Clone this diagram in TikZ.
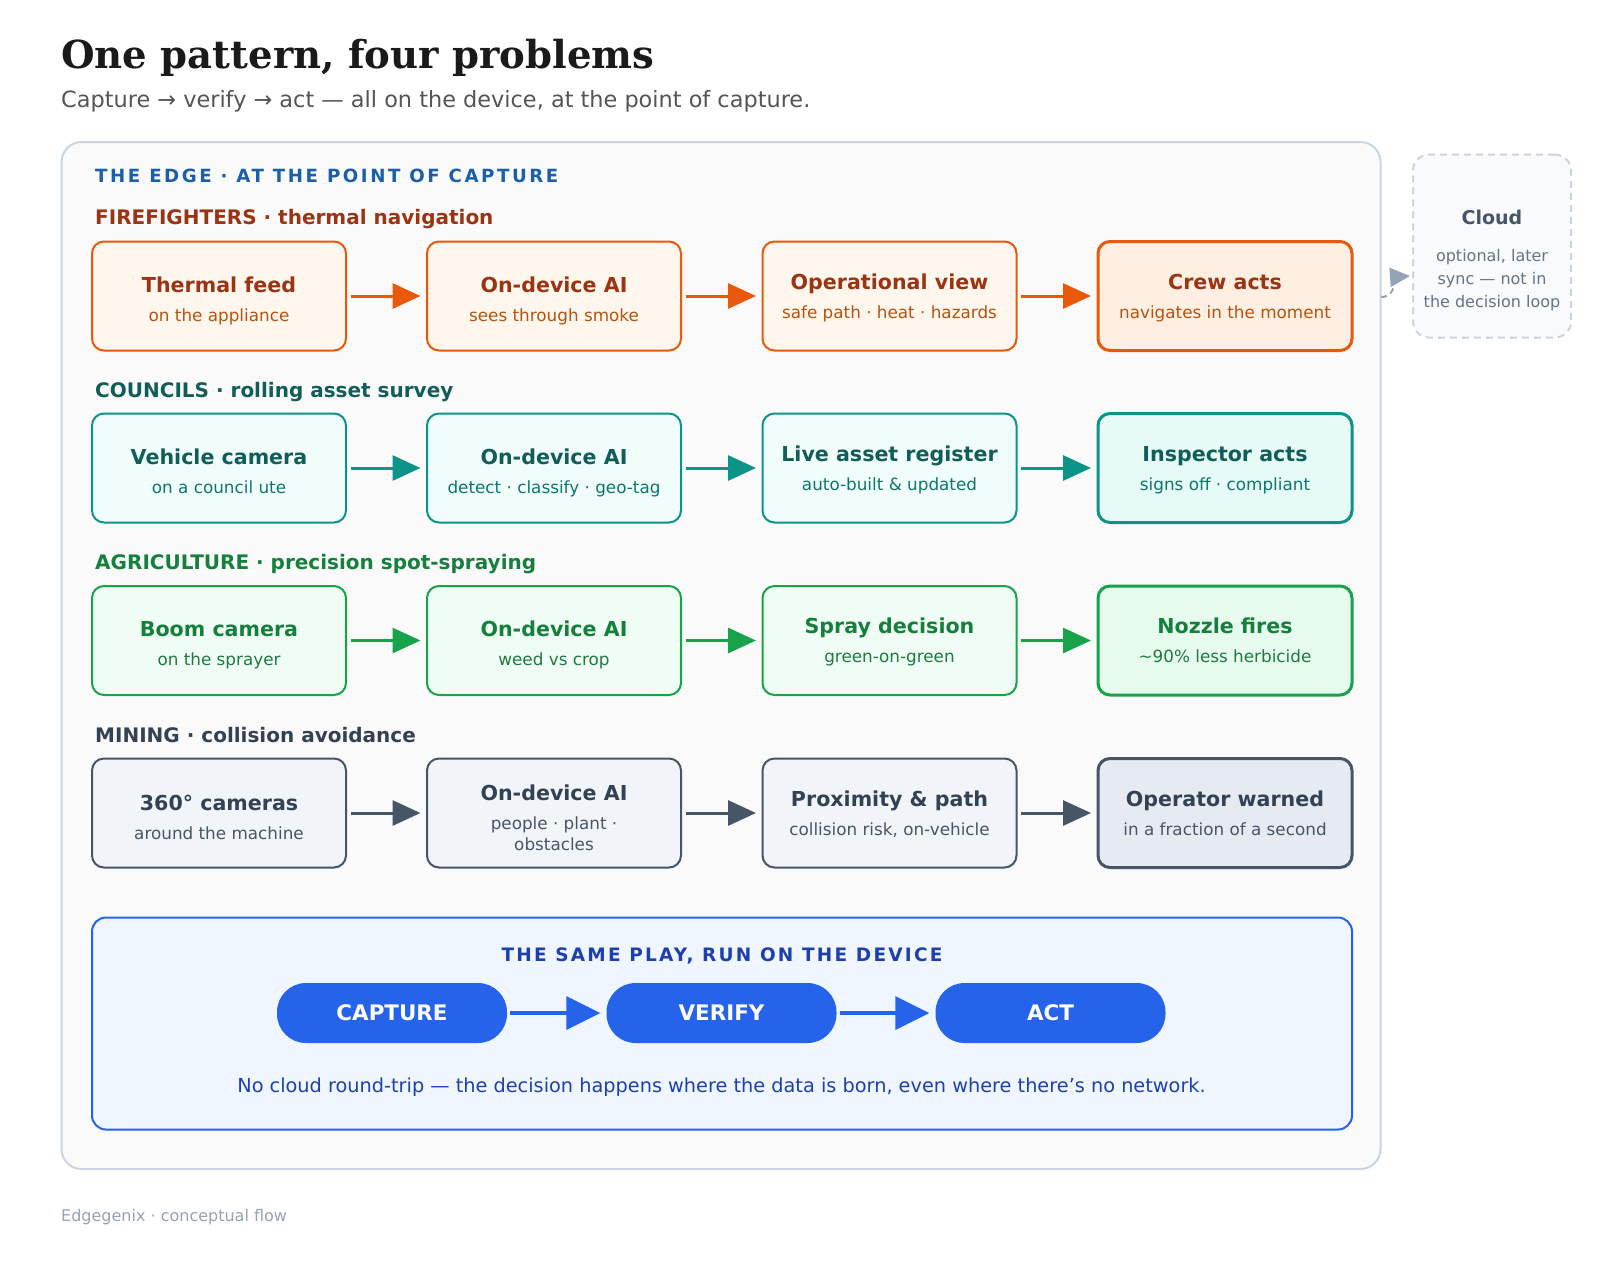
\documentclass[tikz,border=0pt]{standalone}
\usepackage{fontspec}
\setmainfont{DejaVu Sans}
\newfontfamily\serifb{DejaVu Serif}
\newfontface\spacedb{DejaVu Sans Bold}[LetterSpace=14]
\newfontface\spacedc{DejaVu Sans Bold}[LetterSpace=12]
\usetikzlibrary{arrows.meta,calc}
\newcommand\fs[1]{\fontsize{#1}{#1}\selectfont}
\definecolor{fireL}{HTML}{9A3412}\definecolor{fireB}{HTML}{EA580C}\definecolor{fireF}{HTML}{FFF7ED}\definecolor{fireFF}{HTML}{FFEFE3}\definecolor{fireS}{HTML}{B4530F}
\definecolor{counL}{HTML}{115E59}\definecolor{counB}{HTML}{0D9488}\definecolor{counF}{HTML}{F0FDFA}\definecolor{counFF}{HTML}{E6FAF6}\definecolor{counS}{HTML}{0F766E}
\definecolor{agrL}{HTML}{15803D}\definecolor{agrB}{HTML}{16A34A}\definecolor{agrF}{HTML}{F0FDF4}\definecolor{agrFF}{HTML}{E6FAEE}\definecolor{agrS}{HTML}{1D7A40}
\definecolor{minL}{HTML}{334155}\definecolor{minB}{HTML}{475569}\definecolor{minF}{HTML}{F1F5F9}\definecolor{minFF}{HTML}{E6EBF2}\definecolor{minS}{HTML}{475569}
\definecolor{edgeL}{HTML}{1A5FA8}\definecolor{panelB}{HTML}{CBD5E1}\definecolor{panelF}{HTML}{FAFAFA}
\definecolor{blueF}{HTML}{EFF6FF}\definecolor{blueB}{HTML}{2563EB}\definecolor{blueT}{HTML}{1E40AF}
\definecolor{cloudF}{HTML}{F8FAFC}\definecolor{cloudT}{HTML}{475569}\definecolor{cloudS}{HTML}{64748B}\definecolor{cloudA}{HTML}{94A3B8}
\definecolor{titleC}{HTML}{1A1A1A}\definecolor{subC}{HTML}{555555}\definecolor{footC}{HTML}{94A3B8}
\newcommand\tcol{fireL}\newcommand\scol{fireS}
\newcommand\mkbox[7]{%
  \node[#2] (#1) at (#3,#4) {};
  \node[ttl, text=\tcol] (#1-t) at ($(#1.center)+(0,#7)$) {#5};
  \node[sbt, text=\scol] (#1-s) at ($(#1.center)+(0,#7+29)$) {#6};
}
\tikzset{
  stepbox/.style={draw=#1B, fill=#1F, line width=2pt, rounded corners=12pt, minimum width=254pt, minimum height=109pt, inner sep=0pt},
  lastbox/.style={draw=#1B, fill=#1FF, line width=3pt, rounded corners=12pt, minimum width=254pt, minimum height=109pt, inner sep=0pt},
  ttl/.style={anchor=base, inner sep=0pt, font=\fs{20.6}\bfseries},
  sbt/.style={anchor=base, inner sep=0pt, font=\fs{16.8}},
  rowlab/.style={anchor=base west, inner sep=0pt, font=\fs{20}\bfseries},
  rowarr/.style={draw=#1, line width=3pt, shorten <=3.5pt, shorten >=5.5pt, -{Triangle[length=28pt,width=25pt]}},
  pill/.style={fill=blueB, rounded corners=29pt, minimum width=230pt, minimum height=60pt, inner sep=0pt, text=white, font=\fs{21.4}\bfseries},
  pillarr/.style={draw=blueB, line width=3.5pt, shorten <=3pt, shorten >=6pt, -{Triangle[length=34pt,width=33pt]}},
  plain/.style={inner sep=0pt}
}
\begin{document}
\begin{tikzpicture}[x=1pt,y=-1pt]
\useasboundingbox[fill=white] (0,0) rectangle (1600,1262);
% title
\node[plain, anchor=base west, text=titleC, font=\serifb\fs{38.6}\bfseries] (title) at (61,68) {One pattern, four problems};
\node[plain, anchor=base west, text=subC, font=\fs{22.4}] (subtitle) at (61,107.5) {Capture → verify → act — all on the device, at the point of capture.};
% outer panel
\node[draw=panelB, fill=panelF, line width=2pt, rounded corners=20pt, minimum width=1319pt, minimum height=1027pt, inner sep=0pt] (panel) at (721,655.5) {};
\node[plain, anchor=base west, text=edgeL, font=\spacedb\fs{18.2}] (edgelab) at (95,182) {THE EDGE · AT THE POINT OF CAPTURE};
% cloud
\node[draw=panelB, fill=cloudF, line width=2pt, dash pattern=on 7pt off 5pt, rounded corners=16pt, minimum width=158pt, minimum height=183pt, inner sep=0pt] (cloud) at (1492,246) {};
\node[plain, anchor=base, text=cloudT, font=\fs{19}\bfseries] (cloud-t) at (1492,224) {Cloud};
\node[plain, anchor=base, text=cloudS, font=\fs{16}] (cloud-s1) at (1492,261.5) {optional, later};
\node[plain, anchor=base, text=cloudS, font=\fs{16}] (cloud-s2) at (1492,284.5) {sync — not in};
\node[plain, anchor=base, text=cloudS, font=\fs{16}] (cloud-s3) at (1492,307.5) {the decision loop};
\coordinate (edgeout) at (1381,297);
\coordinate (cloudin) at (1410,276);
\draw[draw=cloudA, line width=2pt, dash pattern=on 6pt off 4pt, -{Triangle[length=20pt,width=19pt,fill=cloudA]}] (edgeout) .. controls (1397,297) and (1395,277) .. (cloudin);
% row 1 firefighters
\renewcommand\tcol{fireL}\renewcommand\scol{fireS}
\node[rowlab, text=fireL] (lab1) at (95,224.5) {FIREFIGHTERS · thermal navigation};
\mkbox{f1}{stepbox=fire}{219}{296}{Thermal feed}{on the appliance}{-4}
\mkbox{f2}{stepbox=fire}{554}{296}{On-device AI}{sees through smoke}{-4}
\mkbox{f3}{stepbox=fire}{889.5}{296}{Operational view}{safe path · heat · hazards}{-7}
\mkbox{f4}{lastbox=fire}{1225}{296}{Crew acts}{navigates in the moment}{-7}
\draw[rowarr=fireB] (f1) -- (f2);
\draw[rowarr=fireB] (f2) -- (f3);
\draw[rowarr=fireB] (f3) -- (f4);
% row 2 councils
\renewcommand\tcol{counL}\renewcommand\scol{counS}
\node[rowlab, text=counL] (lab2) at (95,397) {COUNCILS · rolling asset survey};
\mkbox{c1}{stepbox=coun}{219}{468}{Vehicle camera}{on a council ute}{-4}
\mkbox{c2}{stepbox=coun}{554}{468}{On-device AI}{detect · classify · geo-tag}{-4}
\mkbox{c3}{stepbox=coun}{889.5}{468}{Live asset register}{auto-built \& updated}{-7}
\mkbox{c4}{lastbox=coun}{1225}{468}{Inspector acts}{signs off · compliant}{-7}
\draw[rowarr=counB] (c1) -- (c2);
\draw[rowarr=counB] (c2) -- (c3);
\draw[rowarr=counB] (c3) -- (c4);
% row 3 agriculture
\renewcommand\tcol{agrL}\renewcommand\scol{agrS}
\node[rowlab, text=agrL] (lab3) at (95,569.5) {AGRICULTURE · precision spot-spraying};
\mkbox{a1}{stepbox=agr}{219}{640.5}{Boom camera}{on the sprayer}{-4}
\mkbox{a2}{stepbox=agr}{554}{640.5}{On-device AI}{weed vs crop}{-4}
\mkbox{a3}{stepbox=agr}{889.5}{640.5}{Spray decision}{green-on-green}{-7}
\mkbox{a4}{lastbox=agr}{1225}{640.5}{Nozzle fires}{\textasciitilde90\% less herbicide}{-7}
\draw[rowarr=agrB] (a1) -- (a2);
\draw[rowarr=agrB] (a2) -- (a3);
\draw[rowarr=agrB] (a3) -- (a4);
% row 4 mining
\renewcommand\tcol{minL}\renewcommand\scol{minS}
\node[rowlab, text=minL] (lab4) at (95,742) {MINING · collision avoidance};
\mkbox{m1}{stepbox=min}{219}{813}{360° cameras}{around the machine}{-3}
\node[stepbox=min] (m2) at (554,813) {};
\node[ttl, text=minL] (m2-t) at ($(m2.center)+(0,-13)$) {On-device AI};
\node[sbt, text=minS] (m2-s1) at ($(m2.center)+(0,16)$) {people · plant ·};
\node[sbt, text=minS] (m2-s2) at ($(m2.center)+(0,37.5)$) {obstacles};
\mkbox{m3}{stepbox=min}{889.5}{813}{Proximity \& path}{collision risk, on-vehicle}{-6.5}
\mkbox{m4}{lastbox=min}{1225}{813}{Operator warned}{in a fraction of a second}{-6.5}
\draw[rowarr=minB] (m1) -- (m2);
\draw[rowarr=minB] (m2) -- (m3);
\draw[rowarr=minB] (m3) -- (m4);
% bottom panel
\node[draw=blueB, fill=blueF, line width=2pt, rounded corners=14pt, minimum width=1260pt, minimum height=212pt, inner sep=0pt] (play) at (722,1023.5) {};
\node[plain, anchor=base, text=blueT, font=\spacedc\fs{18.5}] (play-t) at (722,961.5) {THE SAME PLAY, RUN ON THE DEVICE};
\node[pill] (cap) at (392,1013) {CAPTURE};
\node[pill] (ver) at (721.5,1013) {VERIFY};
\node[pill] (act) at (1050.5,1013) {ACT};
\draw[pillarr] (cap) -- (ver);
\draw[pillarr] (ver) -- (act);
\node[plain, anchor=base, text=blueT, font=\fs{19.3}] (note) at (721.5,1092.5) {No cloud round-trip — the decision happens where the data is born, even where there’s no network.};
% footer
\node[plain, anchor=base west, text=footC, font=\fs{16}] (foot) at (61,1221.5) {Edgegenix · conceptual flow};
\end{tikzpicture}
\end{document}
